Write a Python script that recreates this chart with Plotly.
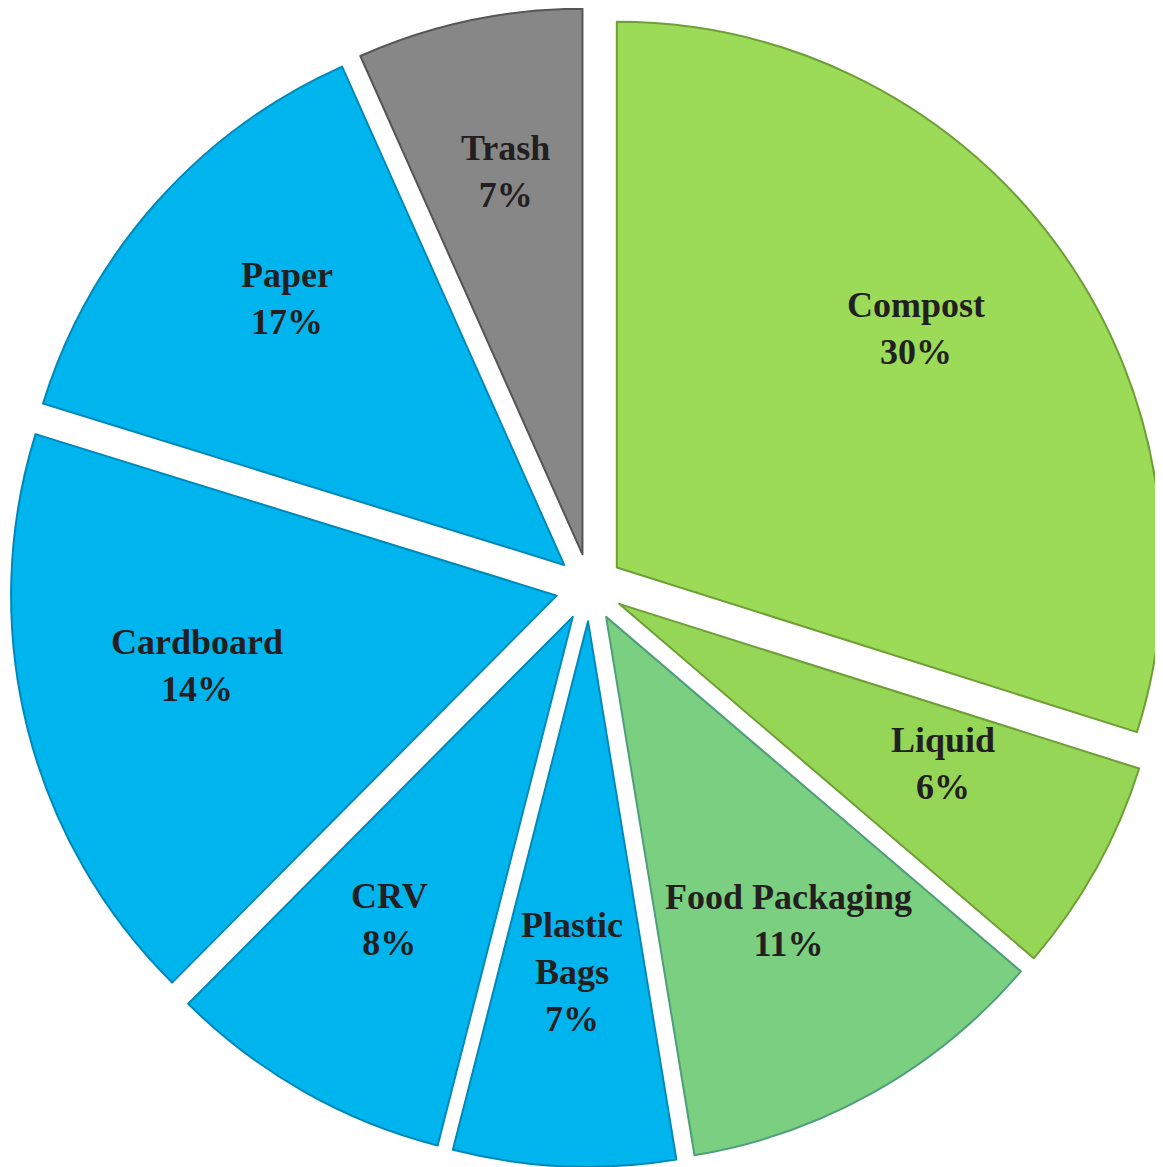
import math
import plotly.graph_objects as go

# Categories in clockwise order starting at 12 o'clock
categories = ["Compost", "Liquid", "Food Packaging", "Plastic Bags", "CRV", "Cardboard", "Paper", "Trash"]
label_lines = ["Compost", "Liquid", "Food Packaging", "Plastic<br>Bags", "CRV", "Cardboard", "Paper", "Trash"]
# Printed percentages
pct_labels = ["30%", "6%", "11%", "7%", "8%", "14%", "17%", "7%"]
# Slice shares
slice_shares = [30.0, 6.4, 11.2, 6.6, 8.5, 17.4, 13.6, 6.7]

colors = ["#9BDB57", "#96D656", "#7ACF80", "#00B4EE", "#00B4EE", "#00B4EE", "#00B4EE", "#878787"]
edge_colors = ["#6E9E35", "#6E9E35", "#4E9E7A", "#0089B8", "#0089B8", "#0089B8", "#0089B8", "#555555"]

W, H = 1163, 1167
PULL = 0.062
DOM_X = [0.0, 1.0]
DOM_Y = [0.007, 1.0]
TEXT_R = 0.68  # radial position of labels as fraction of radius
TEXT_YSHIFT = 20

fig = go.Figure(go.Pie(
    labels=categories,
    values=slice_shares,
    textinfo="none",
    sort=False,
    direction="clockwise",
    rotation=0,
    pull=[PULL] * len(slice_shares),
    marker=dict(colors=colors, line=dict(color=edge_colors, width=2)),
    showlegend=False,
    hoverinfo="label",
    domain=dict(x=DOM_X, y=DOM_Y),
))

# Label placement derived from the pie geometry and the slice shares
box_w = W * (DOM_X[1] - DOM_X[0])
box_h = H * (DOM_Y[1] - DOM_Y[0])
r = min(box_w, box_h) / (2 * (1 + PULL))
cx = W * (DOM_X[0] + DOM_X[1]) / 2
cy = H * (1 - DOM_Y[0]) - box_h / 2
total = sum(slice_shares)
cum = 0.0
annotations = []
for name, pct, v in zip(label_lines, pct_labels, slice_shares):
    mid = (cum + v / 2) / total * 2 * math.pi
    cum += v
    dist = (PULL + TEXT_R) * r
    px = cx + dist * math.sin(mid)
    py = cy - dist * math.cos(mid)
    annotations.append(dict(
        x=px / W, y=1 - py / H, xref="paper", yref="paper",
        text=f"{name}<br>{pct}", showarrow=False,
        xanchor="center", yanchor="middle", align="center", yshift=TEXT_YSHIFT,
        font=dict(family="Liberation Serif", size=36, color="#231F20", weight="bold"),
    ))

fig.update_layout(
    width=W,
    height=H,
    margin=dict(l=0, r=0, t=0, b=0),
    paper_bgcolor="white",
    plot_bgcolor="white",
    annotations=annotations,
)

fig.write_html("out.html")
